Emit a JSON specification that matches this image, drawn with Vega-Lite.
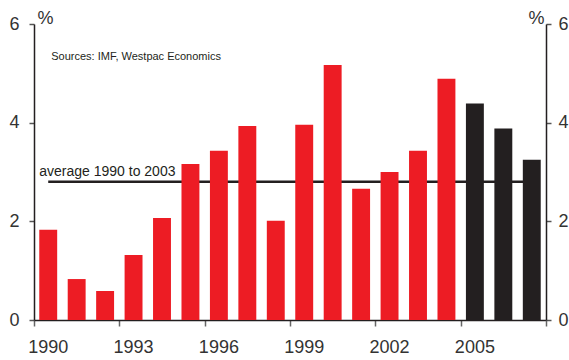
{
  "$schema": "https://vega.github.io/schema/vega-lite/v6.json",
  "width": 512,
  "height": 296,
  "autosize": {"type": "none"},
  "padding": {"left": 34, "top": 24, "right": 23, "bottom": 40},
  "background": "white",
  "config": {
    "view": {"stroke": null},
    "font": "Liberation Sans",
    "axis": {"grid": false}
  },
  "datasets": {
    "growth": [
      {"year": "1990", "value": 1.83, "kind": "actual"},
      {"year": "1991", "value": 0.83, "kind": "actual"},
      {"year": "1992", "value": 0.59, "kind": "actual"},
      {"year": "1993", "value": 1.32, "kind": "actual"},
      {"year": "1994", "value": 2.07, "kind": "actual"},
      {"year": "1995", "value": 3.16, "kind": "actual"},
      {"year": "1996", "value": 3.43, "kind": "actual"},
      {"year": "1997", "value": 3.93, "kind": "actual"},
      {"year": "1998", "value": 2.01, "kind": "actual"},
      {"year": "1999", "value": 3.96, "kind": "actual"},
      {"year": "2000", "value": 5.17, "kind": "actual"},
      {"year": "2001", "value": 2.66, "kind": "actual"},
      {"year": "2002", "value": 3.0, "kind": "actual"},
      {"year": "2003", "value": 3.43, "kind": "actual"},
      {"year": "2004", "value": 4.89, "kind": "actual"},
      {"year": "2005", "value": 4.39, "kind": "forecast"},
      {"year": "2006", "value": 3.88, "kind": "forecast"},
      {"year": "2007", "value": 3.25, "kind": "forecast"}
    ],
    "average": [
      {"year": "1990", "end": "2007", "value": 2.8, "label": "average 1990 to 2003"}
    ],
    "notes": [
      {"year": "1990", "value": 5.27, "label": "Sources: IMF, Westpac Economics"}
    ]
  },
  "layer": [
    {
      "mark": {"type": "rule", "color": "#808080", "strokeWidth": 1.5},
      "encoding": {"y": {"datum": 6, "type": "quantitative", "axis": null}}
    },
    {
      "data": {"name": "average"},
      "mark": {"type": "rule", "color": "#231F20", "strokeWidth": 2.5},
      "encoding": {
        "x": {
          "field": "year", "type": "ordinal", "sort": "ascending",
          "axis": {
            "orient": "bottom",
            "title": null,
            "values": ["1990", "1993", "1996", "1999", "2002", "2005"],
            "tickOffset": -14.22,
            "labels": false,
            "domain": false,
            "tickSize": 6, "tickColor": "#666666", "tickWidth": 1.5
          }
        },
        "x2": {"field": "end"},
        "y": {"field": "value", "type": "quantitative", "axis": null}
      }
    },
    {
      "data": {"name": "growth"},
      "mark": {"type": "bar", "width": {"band": 0.63}},
      "encoding": {
        "x": {
          "field": "year",
          "type": "ordinal",
          "sort": "ascending",
          "scale": {"paddingInner": 0, "paddingOuter": 0},
          "axis": {
            "orient": "bottom",
            "title": null,
            "values": ["1990", "1993", "1996", "1999", "2002", "2005"],
            "ticks": false,
            "labelAngle": 0, "labelFontSize": 18, "labelColor": "#333333", "labelPadding": 18,
            "domainColor": "#231F20", "domainWidth": 1.5
          }
        },
        "y": {
          "field": "value",
          "type": "quantitative",
          "scale": {"domain": [0, 6], "nice": false},
          "axis": {
            "orient": "left",
            "values": [0, 2, 4, 6],
            "title": "%",
            "titleAngle": 0,
            "titleFontSize": 18,
            "titleFontWeight": "normal",
            "titleColor": "#333333",
            "titleAlign": "center",
            "titleBaseline": "alphabetic",
            "titleX": 11,
            "titleY": -1,
            "labelFontSize": 18,
            "labelColor": "#333333",
            "labelPadding": 10,
            "tickSize": 5,
            "tickColor": "#555555",
            "tickWidth": 1.5,
            "domainColor": "#231F20",
            "domainWidth": 1.5
          }
        },
        "color": {
          "field": "kind",
          "type": "nominal",
          "scale": {"domain": ["actual", "forecast"], "range": ["#ED1C24", "#231F20"]},
          "legend": null
        }
      }
    },
    {
      "data": {"name": "growth"},
      "mark": {"type": "rule", "opacity": 0},
      "encoding": {
        "y": {
          "field": "value",
          "type": "quantitative",
          "axis": {
            "orient": "right",
            "values": [0, 2, 4, 6],
            "title": "%",
            "titleAngle": 0,
            "titleFontSize": 18,
            "titleFontWeight": "normal",
            "titleColor": "#333333",
            "titleAlign": "center",
            "titleBaseline": "alphabetic",
            "titleX": -10,
            "titleY": -1,
            "labelFontSize": 18,
            "labelColor": "#333333",
            "labelPadding": 7,
            "tickSize": 5,
            "tickColor": "#555555",
            "tickWidth": 1.5,
            "domainColor": "#231F20",
            "domainWidth": 1.5
          }
        }
      }
    },
    {
      "data": {"name": "average"},
      "mark": {"type": "text", "align": "left", "baseline": "alphabetic", "fontSize": 14, "color": "#231F20", "dx": -9, "dy": -6},
      "encoding": {
        "x": {
          "field": "year", "type": "ordinal", "sort": "ascending",
          "axis": {
            "orient": "bottom",
            "title": null,
            "values": ["2007"],
            "tickOffset": 14.22,
            "labels": false,
            "domain": false,
            "tickSize": 6, "tickColor": "#666666", "tickWidth": 1.5
          }
        },
        "y": {"field": "value", "type": "quantitative", "axis": null},
        "text": {"field": "label"}
      }
    },
    {
      "data": {"name": "notes"},
      "mark": {"type": "text", "align": "left", "baseline": "alphabetic", "fontSize": 11, "color": "#231F20", "dx": 3},
      "encoding": {
        "x": {"field": "year", "type": "ordinal", "sort": "ascending", "axis": null},
        "y": {"field": "value", "type": "quantitative", "axis": null},
        "text": {"field": "label"}
      }
    }
  ],
  "resolve": {"scale": {"y": "shared", "x": "shared"}, "axis": {"y": "independent", "x": "independent"}}
}
